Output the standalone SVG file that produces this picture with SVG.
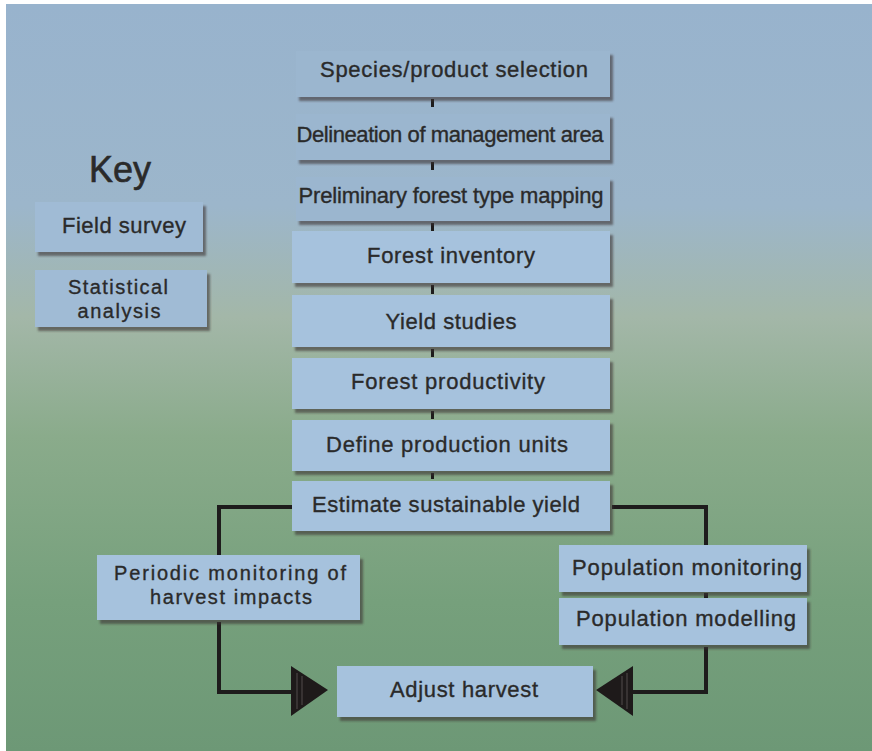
<svg xmlns="http://www.w3.org/2000/svg" width="872" height="751" viewBox="0 0 872 751">
<defs>
<linearGradient id="bg" x1="0" y1="0" x2="0" y2="1">
<stop offset="0" stop-color="#98b3cd"/>
<stop offset="0.27" stop-color="#9cb6cb"/>
<stop offset="0.42" stop-color="#a3b7a8"/>
<stop offset="0.58" stop-color="#8aab8b"/>
<stop offset="0.8" stop-color="#76a07c"/>
<stop offset="1" stop-color="#6d9876"/>
</linearGradient>
<filter id="sh" x="-5%" y="-10%" width="115%" height="130%">
<feDropShadow dx="3" dy="4" stdDeviation="1.2" flood-color="#3a3633" flood-opacity="0.6"/>
</filter>
</defs>
<style>
.box{fill:#a6c2dd;filter:url(#sh)}
.top{fill:#9bb6cf;filter:url(#sh)}
.key{fill:#a0bbd5;filter:url(#sh)}
text{font-family:"Liberation Sans",Arial,sans-serif;font-size:22px;fill:#2a2a2a;stroke:#2a2a2a;stroke-width:0.35;text-anchor:middle}
.two{font-size:20px}
.ln{fill:none;stroke:#1e1c1c;stroke-width:4}
.stub{fill:#1e1c1c}
.arr{fill:#1e1a1a}
.hl{stroke:#4a4444;stroke-width:1.2;fill:none}
</style>
<rect x="0" y="0" width="872" height="751" fill="#ffffff"/>
<rect x="6" y="4" width="866" height="747" fill="url(#bg)"/>

<g id="connectors">
<rect class="stub" x="431" y="99" width="3" height="8"/>
<rect class="stub" x="431" y="162" width="3" height="8"/>
<rect class="stub" x="431" y="223" width="3" height="8"/>
<rect class="stub" x="431" y="285" width="3" height="9"/>
<rect class="stub" x="431" y="349" width="3" height="8"/>
<rect class="stub" x="431" y="411" width="3" height="8"/>
<rect class="stub" x="431" y="473" width="3" height="6"/>
<polyline class="ln" points="292,507 219,507 219,555"/>
<polyline class="ln" points="219,622 219,692 292,692"/>
<polyline class="ln" points="612,507 706,507 706,545"/>
<line class="ln" x1="706" y1="593" x2="706" y2="598"/>
<polyline class="ln" points="706,647 706,692 632,692"/>
<polygon class="arr" points="291,666 328,690 291,716"/>
<path class="hl" d="M297,673 V709 M302,676 V705"/>
<polygon class="arr" points="633,666 596,690 633,716"/>
<path class="hl" d="M627,673 V709 M622,676 V705"/>
</g>

<g id="key">
<text x="120" y="182" style="font-size:36px;stroke-width:0.6">Key</text>
</g>
<g id="field-survey">
<rect class="key" x="35" y="202" width="168" height="50"/>
<text x="124" y="233" textLength="124" lengthAdjust="spacing">Field survey</text>
</g>
<g id="statistical-analysis">
<rect class="key" x="35" y="270" width="172" height="57"/>
<text class="two" x="118" y="294" textLength="100" lengthAdjust="spacing">Statistical</text>
<text class="two" x="119" y="318" textLength="83" lengthAdjust="spacing">analysis</text>
</g>

<g id="species">
<rect class="top" x="296" y="51" width="314" height="46"/>
<text x="454" y="77" textLength="268" lengthAdjust="spacing">Species/product selection</text>
</g>
<g id="delineation">
<rect class="top" x="296" y="114" width="314" height="46"/>
<text x="450" y="142" textLength="307" lengthAdjust="spacing">Delineation of management area</text>
</g>
<g id="preliminary">
<rect class="top" x="296" y="177" width="314" height="44"/>
<text x="451" y="203" textLength="305" lengthAdjust="spacing">Preliminary forest type mapping</text>
</g>
<g id="forest-inventory">
<rect class="box" x="292" y="231" width="318" height="52"/>
<text x="451" y="263" textLength="168" lengthAdjust="spacing">Forest inventory</text>
</g>
<g id="yield-studies">
<rect class="box" x="292" y="295" width="318" height="52"/>
<text x="451" y="329" textLength="131" lengthAdjust="spacing">Yield studies</text>
</g>
<g id="forest-productivity">
<rect class="box" x="292" y="358" width="318" height="51"/>
<text x="448" y="389" textLength="194" lengthAdjust="spacing">Forest productivity</text>
</g>
<g id="define-units">
<rect class="box" x="292" y="420" width="318" height="51"/>
<text x="447" y="452" textLength="242" lengthAdjust="spacing">Define production units</text>
</g>
<g id="estimate-yield">
<rect class="box" x="292" y="481" width="318" height="50"/>
<text x="446" y="512" textLength="268" lengthAdjust="spacing">Estimate sustainable yield</text>
</g>
<g id="periodic-monitoring">
<rect class="box" x="97" y="555" width="263" height="65"/>
<text class="two" x="230" y="580" textLength="232" lengthAdjust="spacing">Periodic monitoring of</text>
<text class="two" x="231" y="604" textLength="162" lengthAdjust="spacing">harvest impacts</text>
</g>
<g id="population-monitoring">
<rect class="box" x="559" y="545" width="248" height="47"/>
<text x="687" y="575" textLength="230" lengthAdjust="spacing">Population monitoring</text>
</g>
<g id="population-modelling">
<rect class="box" x="559" y="598" width="248" height="47"/>
<text x="686" y="626" textLength="220" lengthAdjust="spacing">Population modelling</text>
</g>
<g id="adjust-harvest">
<rect class="box" x="337" y="666" width="256" height="51"/>
<text x="464" y="697" textLength="148" lengthAdjust="spacing">Adjust harvest</text>
</g>
</svg>
